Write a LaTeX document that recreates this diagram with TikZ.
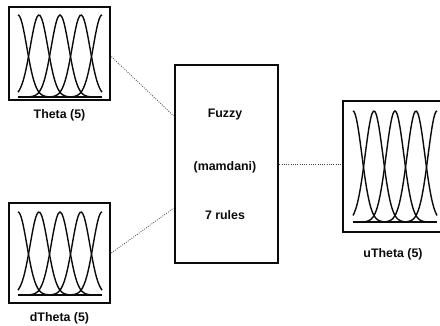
\documentclass[tikz,border=0pt]{standalone}
\usepackage{fontspec}
\setmainfont{Liberation Sans}
\usetikzlibrary{positioning,calc}
\definecolor{ink}{HTML}{0B0B0B}
\definecolor{link}{HTML}{4A4A4A}

\tikzset{
  mfbox/.style={draw=ink,line width=2pt,inner sep=0pt},
  mfcurve/.style={draw=ink,line width=1pt},
  mfbase/.style={draw=ink,line width=0.8pt},
  lbl/.style={font=\fontsize{8.8}{10}\selectfont\bfseries,text=ink},
  wire/.style={draw=link,line width=0.6pt,densely dotted}
}

\begin{document}
\begin{tikzpicture}[x=0.025cm,y=-0.025cm]
  \useasboundingbox (0,0) rectangle (440,326);
  \clip (0,0) rectangle (440,326);
  % membership function boxes
  \node[mfbox,minimum width=2.525cm,minimum height=2.325cm] (theta) at (59.5,53.5) {};
  \node[mfbox,minimum width=2.525cm,minimum height=2.5cm] (dtheta) at (59.5,253) {};
  \node[mfbox,minimum width=2.6cm,minimum height=3.275cm] (utheta) at (395,166.5) {};
  \node[mfbox,minimum width=2.575cm,minimum height=4.95cm] (fuzzy) at (226.5,164) {};
  \node[lbl,below=0.07cm of theta] (thetalbl) {Theta (5)};
  \node[lbl,below=0.07cm of dtheta] (dthetalbl) {dTheta (5)};
  \node[lbl,below=0.26cm of utheta,xshift=-0.05cm] (uthetalbl) {uTheta (5)};
  \node[lbl] (fuzzyname) at (225,115) {Fuzzy};
  \node[lbl] (fuzzytype) at (225,167) {(mamdani)};
  \node[lbl] (fuzzyrules) at (225,215) {7 rules};
  % five gaussians per box
  \foreach \a/\b/\t/\s in {18/102/15/97,18/102/212/295,353/437/111/222}{
    \draw[mfbase] (\a,\s) -- (\b,\s);
    \foreach \i in {0,...,4}{
      \pgfmathsetmacro\d{(\b-\a)/4}
      \pgfmathsetmacro\c{\a+\i*\d}
      \pgfmathsetmacro\lo{max(\a,\c-1.6*\d)}
      \pgfmathsetmacro\hi{min(\b,\c+1.6*\d)}
      \draw[mfcurve] plot[domain=\lo:\hi,samples=41,smooth]
        (\x,{\s-(\s-\t)*exp(-0.5*((\x-\c)/(0.42*\d))^2)});
    }
  }
  % connections
  \coordinate (fin1) at ($(fuzzy.north west)!0.26!(fuzzy.south west)$);
  \coordinate (fin2) at ($(fuzzy.north west)!0.72!(fuzzy.south west)$);
  \draw[wire] ([yshift=-0.08cm]theta.east) -- (fin1);
  \draw[wire] (dtheta.east) -- (fin2);
  \draw[wire] (fuzzy.east) -- (fuzzy.east -| utheta.west);
\end{tikzpicture}
\end{document}
